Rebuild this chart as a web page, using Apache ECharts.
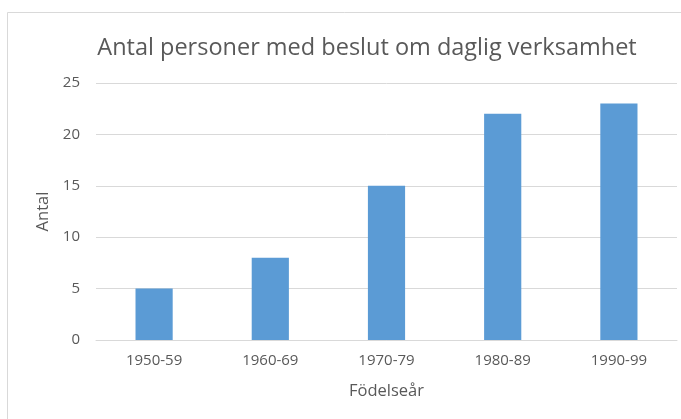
<!DOCTYPE html>
<html lang="sv">
<head>
    <meta charset="UTF-8">
    <title>Antal personer med beslut om daglig verksamhet</title>
    <script src="https://cdn.jsdelivr.net/npm/echarts@6/dist/echarts.min.js"></script>
    <style>
        html, body { margin: 0; padding: 0; background: #fff; }
        #main { width: 681px; height: 419px; }
    </style>
</head>
<body>
<div id="main"></div>
<script>
    // data
    const categories = ["1950-59", "1960-69", "1970-79", "1980-89", "1990-99"];
    const antal = [5, 8, 15, 22, 23];

    const textColor = "#595959";
    const font = "Open Sans";

    let myChart = echarts.init(document.getElementById("main"));

    const option = {
        backgroundColor: "#fff",
        textStyle: { fontFamily: font },
        title: {
            text: "Antal personer med beslut om daglig verksamhet",
            left: 362,
            textAlign: "center",
            top: 31,
            textStyle: { fontFamily: font, fontSize: 23.5, fontWeight: "normal", color: textColor }
        },
        graphic: [{
            type: "rect",
            shape: { x: 7.5, y: 12.5, width: 700, height: 420 },
            style: { fill: null, stroke: "#d9d9d9", lineWidth: 1 },
            silent: true
        }],
        grid: { left: 96, right: 4, top: 83, bottom: 79 },
        xAxis: {
            type: "category",
            data: categories,
            name: "Födelseår",
            nameLocation: "middle",
            nameGap: 43,
            nameTextStyle: { fontSize: 16.5, color: textColor },
            axisLine: { lineStyle: { color: "#d9d9d9" } },
            axisTick: { show: false },
            axisLabel: { fontSize: 15, color: textColor, margin: 13 }
        },
        yAxis: {
            type: "value",
            min: 0,
            max: 25,
            interval: 5,
            name: "Antal",
            nameLocation: "middle",
            nameGap: 38,
            nameTextStyle: { fontSize: 16.5, color: textColor },
            axisLine: { show: false },
            axisTick: { show: false },
            axisLabel: { fontSize: 15, color: textColor, margin: 16 },
            splitLine: { lineStyle: { color: "#d9d9d9" } }
        },
        series: [{
            type: "bar",
            data: antal,
            barWidth: "32%",
            itemStyle: { color: "#5b9bd5" }
        }]
    };

    myChart.setOption(option);
</script>
</body>
</html>
